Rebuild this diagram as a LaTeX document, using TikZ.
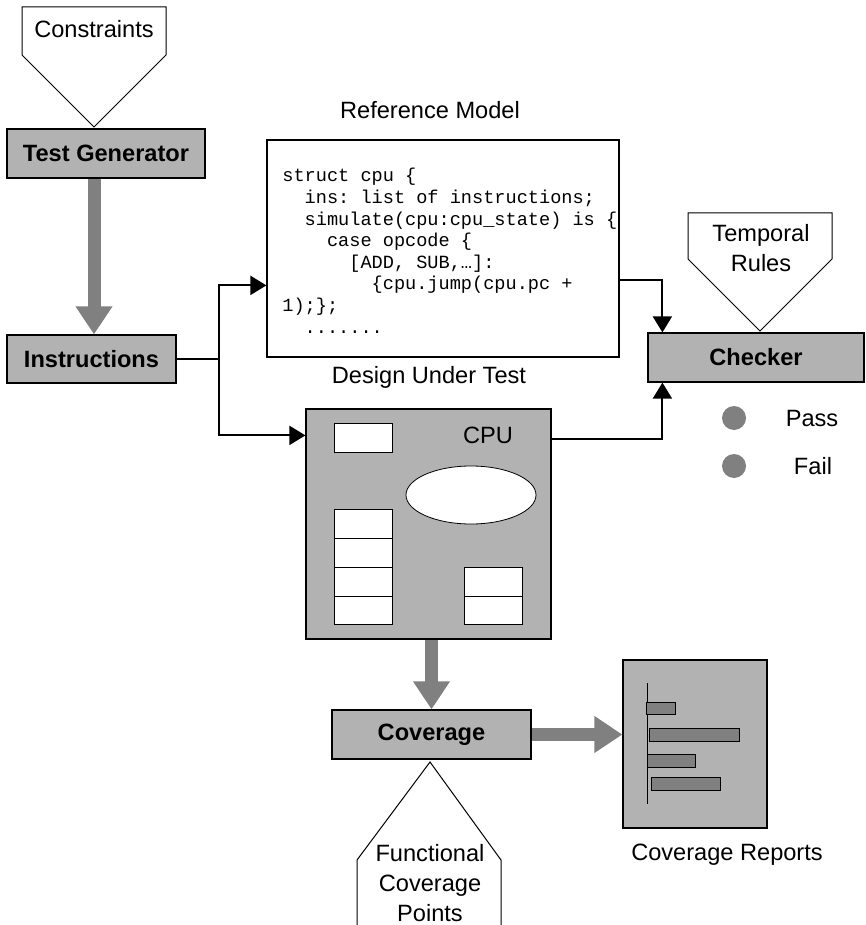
\documentclass[tikz,border=0pt]{standalone}
\usepackage{fontspec}
\setmainfont{Liberation Sans}
\newfontfamily\codefont{Liberation Mono}
\usetikzlibrary{calc}
\usetikzlibrary{arrows.meta}
\definecolor{boxgray}{gray}{0.7}
\definecolor{arrowgray}{gray}{0.5}
\newcommand\labelfont{\fontsize{11.8}{15}\selectfont}
\tikzset{
  blockbox/.style={draw, fill=boxgray, line width=0.6pt, inner sep=0pt, font=\labelfont\bfseries},
  plainbox/.style={draw, line width=0.6pt, inner sep=0pt},
  link/.style={line width=1pt, -{Triangle[length=8pt,width=9.5pt]}},
  bigarrow/.style={draw=arrowgray, line width=6.5pt, -{Triangle[length=14pt,width=17.5pt]}},
  tag/.style={draw, fill=white, line width=0.5pt},
}

\begin{document}
\begin{tikzpicture}[x=0.5pt, y=-0.5pt, every node/.style={font=\labelfont}]
\useasboundingbox (0,0) rectangle (866,925);

% boxes
\node[blockbox, minimum width=99pt, minimum height=24.5pt] (gen) at (106,153.5) {Test Generator};
\node[blockbox, minimum width=84.5pt, minimum height=24pt] (ins) at (91.5,359) {Instructions};
\node[plainbox, fill=white, minimum width=176pt, minimum height=108.5pt] (ref) at (443,248.5) {};
\node[blockbox, minimum width=108pt, minimum height=24.5pt] (chk) at (756,357.5) {Checker};
\node[plainbox, fill=boxgray, minimum width=122.5pt, minimum height=115pt] (cpu) at (428.5,524) {};
\node[blockbox, minimum width=99.5pt, minimum height=24.5pt] (cov) at (431.5,734.5) {Coverage};
\node[plainbox, fill=boxgray, minimum width=72pt, minimum height=84pt] (rep) at (695,744) {};

% labels
\node (refl) at (430,110) {Reference Model};
\node (dutl) at (429,377) {Design Under Test};
\node (cpul) at (488,435) {CPU};
\node (repl) at (727,855) {Coverage Reports};
\node (pass) at (812,418) {Pass};
\node (fail) at (813,466) {Fail};
\fill[arrowgray] (734,418) circle [radius=12];
\fill[arrowgray] (734,466) circle [radius=12];

% reference model code
\node[anchor=north west, inner sep=0pt, align=left, font=\codefont\fontsize{9.3}{10.8}\selectfont\frenchspacing] (code) at (282,168) {%
struct cpu \{\\
\phantom{xx}ins: list of instructions;\\
\phantom{xx}simulate(cpu:cpu\_state) is \{\\
\phantom{xxxx}case opcode \{\\
\phantom{xxxxxx}[ADD, SUB,…]:\\
\phantom{xxxxxxxx}\{cpu.jump(cpu.pc +\\
1);\};\\
\phantom{xx}.......};

% inputs
\coordinate (C) at (94,127);
\draw[tag] (C) --++(-72,-72) --++(0,-48) --++(144,0) --++(0,48) -- cycle;
\node (cons) at (94,29) {Constraints};

\coordinate (T) at (760,331);
\draw[tag] (T) --++(-72,-72) --++(0,-46) --++(144,0) --++(0,46) -- cycle;
\node[align=center] (temp) at (761,248) {Temporal\\Rules};

\coordinate (F) at (430,762);
\draw[line width=0.5pt] (F)++(-73,163) --++(0,-65) -- (F) --++(71,98) --++(0,65);
\node[align=center] (fcp) at (430,883) {Functional\\Coverage\\Points};

% cpu inside
\draw[fill=white] (334,423) rectangle (392,452);
\draw[fill=white] (471,495) ellipse [x radius=65, y radius=29];
\draw[fill=white] (334,509) rectangle (392,538);
\draw[fill=white] (334,538) rectangle (392,567);
\draw[fill=white] (334,567) rectangle (392,596);
\draw[fill=white] (334,596) rectangle (392,624);
\draw[fill=white] (464,567) rectangle (522,596);
\draw[fill=white] (464,596) rectangle (522,624);

% report bars
\draw (647,683) -- (647,804);
\draw[fill=arrowgray] (646,702) rectangle (675,714);
\draw[fill=arrowgray] (649,728) rectangle (739,741);
\draw[fill=arrowgray] (647,754) rectangle (695,767);
\draw[fill=arrowgray] (651,777) rectangle (720,790);

% flow
\draw[bigarrow] (gen.south -| C) -- (ins.north -| C);
\draw[bigarrow] (cpu.south -| cov.north) -- (cov.north);
\draw[bigarrow] (cov.east) -- (rep.west |- cov.east);

\draw[link] (ins.east) --++(42,0) coordinate (split) |- ($(ref.north west)+(0,146)$);
\draw[link] (split) |- ($(cpu.north west)+(0,27)$);
\draw[link] ($(ref.north east)+(0,141)$) -| ($(chk.north west)+(15,0)$);
\draw[link] ($(cpu.north east)+(0,31)$) -| ($(chk.south west)+(15,0)$);
\end{tikzpicture}
\end{document}
